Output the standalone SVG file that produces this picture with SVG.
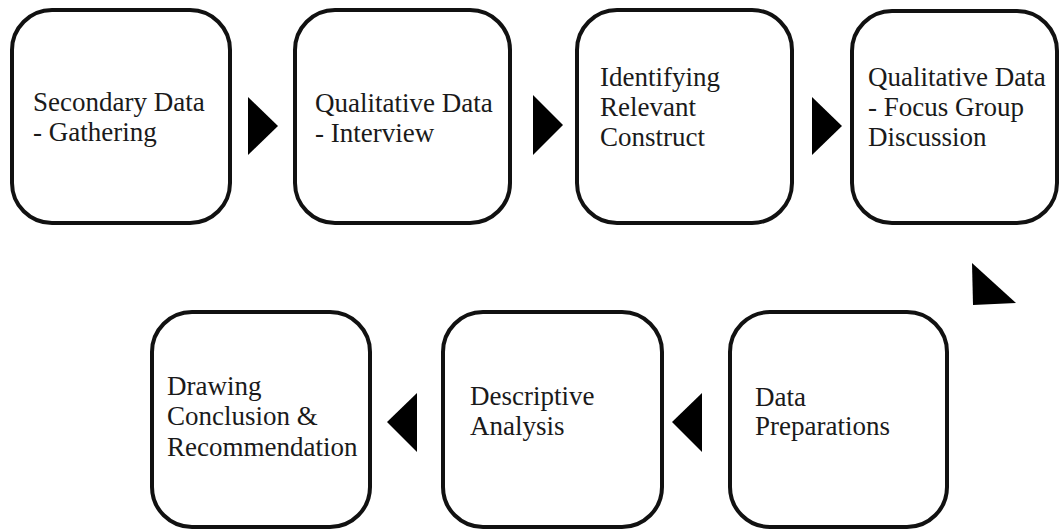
<svg xmlns="http://www.w3.org/2000/svg" width="1059" height="532" viewBox="0 0 1059 532">
<style>
.box{fill:#fff;stroke:#111;stroke-width:4}
.t{font-size:27px;fill:#1a1a1a}
.arr{fill:#000}
</style>
<rect width="1059" height="532" fill="#fff"/>
<g font-family="'Liberation Serif', 'DejaVu Serif', serif">
<g id="n1"><rect class="box" x="12" y="10" width="218" height="213" rx="40"/>
<text class="t" x="33" y="111">Secondary Data</text><text class="t" x="33" y="141">- Gathering</text></g>
<g id="n2"><rect class="box" x="295" y="10" width="215" height="213" rx="40"/>
<text class="t" x="315" y="112">Qualitative Data</text><text class="t" x="315" y="142">- Interview</text></g>
<g id="n3"><rect class="box" x="577" y="10" width="215" height="213" rx="40"/>
<text class="t" x="600" y="86">Identifying</text><text class="t" x="600" y="116">Relevant</text><text class="t" x="600" y="146">Construct</text></g>
<g id="n4"><rect class="box" x="852" y="11" width="205" height="212" rx="40"/>
<text class="t" x="868" y="86">Qualitative Data</text><text class="t" x="868" y="116">- Focus Group</text><text class="t" x="868" y="146">Discussion</text></g>
<g id="n5"><rect class="box" x="152" y="312" width="218" height="215" rx="40"/>
<text class="t" x="167" y="395">Drawing</text><text class="t" x="167" y="425">Conclusion &amp;</text><text class="t" x="167" y="456">Recommendation</text></g>
<g id="n6"><rect class="box" x="443" y="312" width="219" height="215" rx="40"/>
<text class="t" x="470" y="405">Descriptive</text><text class="t" x="470" y="435">Analysis</text></g>
<g id="n7"><rect class="box" x="730" y="312" width="217" height="215" rx="40"/>
<text class="t" x="755" y="406">Data</text><text class="t" x="755" y="435">Preparations</text></g>
</g>
<g id="connectors">
<polygon class="arr" points="248,97 248,155 278,126"/>
<polygon class="arr" points="533,95 533,155 563,125"/>
<polygon class="arr" points="812,97 812,155 842,126"/>
<polygon class="arr" points="972,263 973,305 1016,303"/>
<polygon class="arr" points="387,422 417,393 417,452"/>
<polygon class="arr" points="672,422 702,393 702,452"/>
</g>
</svg>
